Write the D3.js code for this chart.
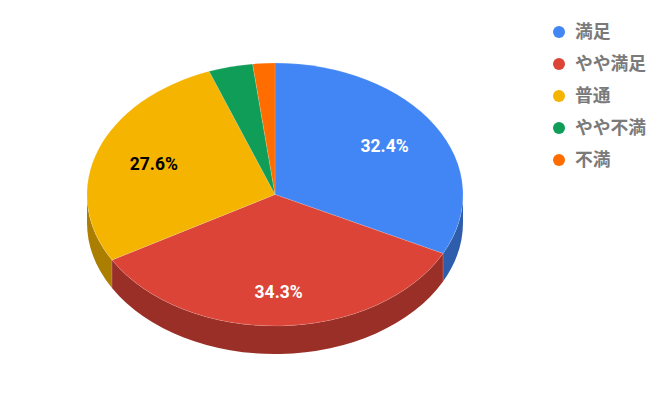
<!DOCTYPE html>
<html><head><meta charset="utf-8">
<script src="https://cdnjs.cloudflare.com/ajax/libs/d3/7.8.5/d3.min.js"></script>
<style>html,body{margin:0;padding:0;background:#fff}svg{display:block}</style>
</head><body><svg id="c" width="667" height="417"></svg>
<script>
const categories = ["満足","やや満足","普通","やや不満","不満"];
const values = [32.4,34.3,27.6,3.8,1.9];
const colors = ["#4285f4","#db4437","#f4b400","#0f9d58","#ff6d00"];
const sideColors = ["#2e5dab","#992f26","#ab7e00","#0a6e3e","#b34c00"];
const labelColors = ["#ffffff","#ffffff","#000000",null,null];

const cx=275, cy=194.5, rx=188, ry=131.5, depth=28;
const k=ry/rx, dScaled=depth/k;
const svg=d3.select("#c");
const pie=d3.pie().sort(null).value(d=>d)(values);
const root=svg.append("g").attr("transform",`translate(${cx},${cy}) scale(1,${k})`);
const toCanvas=a=>a-Math.PI/2;

// side wall: only the front half (canvas angles 0..PI)
const walls=root.append("g");
pie.forEach((d,i)=>{
  const a0=Math.max(toCanvas(d.startAngle),0), a1=Math.min(toCanvas(d.endAngle),Math.PI);
  if(a1<=a0) return;
  const p=d3.path();
  p.arc(0,0,rx,a0,a1);
  p.arc(0,dScaled,rx,a1,a0,true);
  p.closePath();
  walls.append("path").attr("d",p.toString()).attr("fill",sideColors[i]);
});
// seams on the wall at the slice boundaries
pie.forEach(d=>{
  const a=toCanvas(d.startAngle);
  if(a>0&&a<Math.PI){
    walls.append("line").attr("x1",rx*Math.cos(a)).attr("y1",rx*Math.sin(a))
      .attr("x2",rx*Math.cos(a)).attr("y2",rx*Math.sin(a)+dScaled)
      .attr("stroke","#ffffff").attr("stroke-opacity",0.2).attr("stroke-width",1)
      .attr("vector-effect","non-scaling-stroke");
  }
});
const arc=d3.arc().innerRadius(0).outerRadius(rx);
root.selectAll("path.s").data(pie).enter().append("path").attr("class","s")
  .attr("d",arc).attr("fill",(d,i)=>colors[i])
  .attr("stroke","#ffffff").attr("stroke-opacity",0.25).attr("stroke-width",0.6)
  .attr("vector-effect","non-scaling-stroke");

// percentage labels
const total=d3.sum(values), fmt=d3.format(".1f");
pie.forEach((d,i)=>{
  if(!labelColors[i]) return;
  const mid=toCanvas((d.startAngle+d.endAngle)/2), fx=0.685, fy=0.70;
  svg.append("text")
    .attr("x",cx+rx*fx*Math.cos(mid)).attr("y",cy+ry*fy*Math.sin(mid)+Math.max(0,Math.sin(mid))*5.5)
    .attr("dy","0.36em").attr("text-anchor","middle")
    .attr("font-family","Roboto, Arial, sans-serif").attr("font-weight",700).attr("font-size",17.5)
    .attr("fill",labelColors[i]).text(fmt(d.data/total*100)+"%");
});

// legend
const ly=d3.scalePoint().domain(categories).range([32,160]);
const lg=svg.append("g").selectAll("g").data(categories).enter().append("g")
  .attr("transform",d=>`translate(559,${ly(d)})`);
lg.append("circle").attr("r",6).attr("fill",(d,i)=>colors[i]);
lg.append("text").attr("x",16).attr("dy","0.36em")
  .attr("font-family","'Noto Sans CJK JP', sans-serif").attr("font-weight",700)
  .attr("font-size",17.8).attr("fill","#7a7a7a").text(d=>d);
</script></body></html>
